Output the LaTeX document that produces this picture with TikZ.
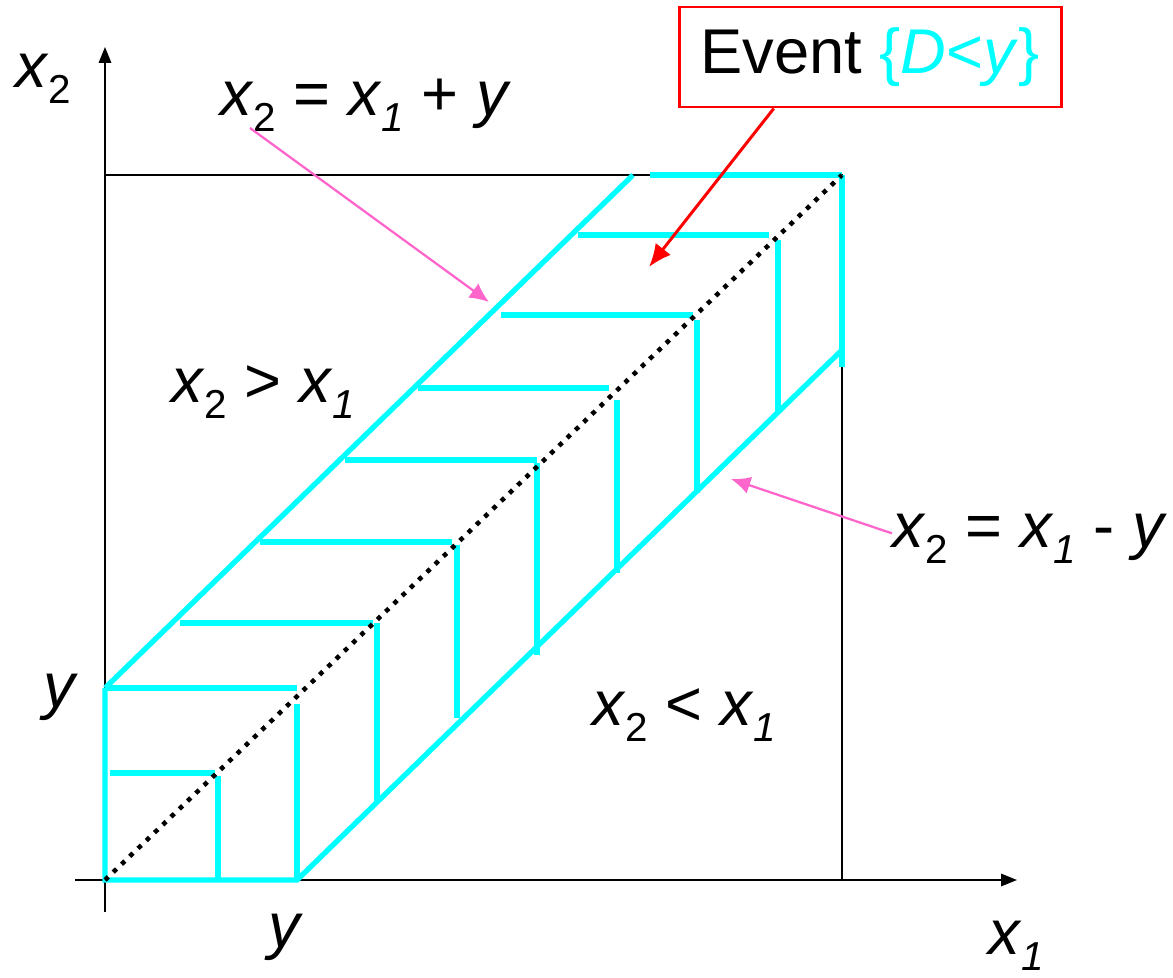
\documentclass[tikz,border=0pt]{standalone}
\usepackage{fontspec}
\setmainfont{Liberation Sans}
\usetikzlibrary{calc,arrows.meta}
\definecolor{aqua}{RGB}{0,255,255}
\definecolor{hotpink}{RGB}{255,102,204}
\newcommand{\sx}[1]{\textit{x}\raisebox{-9.5pt}{\fontsize{23}{23}\selectfont#1}}

\begin{document}
\begin{tikzpicture}[x=0.02cm,y=-0.02cm,
  axis/.style={black,line width=1.1pt},
  band/.style={aqua,line width=3pt},
  lbl/.style={font=\fontsize{36}{42}\selectfont,inner sep=0pt,anchor=base west},
  pointer/.style={hotpink,line width=1.3pt,-{Latex[length=11pt,width=10pt]}}]
  \useasboundingbox (0,0) rectangle (1173,977);
  \draw[axis,-{Triangle[length=9pt,width=7pt]}] (75,880)--(1017,880);
  \draw[axis,-{Triangle[length=9pt,width=7pt]}] (105,912)--(105,47);
  \draw[axis] (105,175)--(842,175)--(842,880);
  \node[lbl] (xtwo) at (15,87) {\sx{2}};
  \node[lbl] (xone) at (988,954) {\sx{\itshape 1}};
  \node[lbl] (yleft) at (43,707) {\textit{y}};
  \node[lbl] (ybottom) at (268,947) {\textit{y}};
  \draw[band] (105,688)--(105,880)--(297,880)--(842,350);
  \draw[band] (105,688)--(633,175);
  \draw[band] (110,773)--(215,773);
  \draw[band] (218,776)--(218,880);
  \draw[band] (105,688)--(297,688);
  \draw[band] (297,704)--(297,880);
  \draw[band] (180,623)--(373,623);
  \draw[band] (377,623)--(377,802);
  \draw[band] (260,542)--(452,542);
  \draw[band] (457,545)--(457,718);
  \draw[band] (345,460)--(537,460);
  \draw[band] (537,463)--(537,655);
  \draw[band] (418,388)--(609,388);
  \draw[band] (617,400)--(617,573);
  \draw[band] (501,315)--(693,315);
  \draw[band] (697,320)--(697,493);
  \draw[band] (578,235)--(769,235);
  \draw[band] (778,240)--(778,412);
  \draw[band] (650,175)--(842,175);
  \draw[band] (842,175)--(842,367);
  \draw[black,line width=2.6pt,dash pattern=on 2.6pt off 3.9pt] (105,880)--(842,175);
  \node[lbl] (plus) at (220,115) {\sx{2} = \sx{\itshape 1} + \textit{y}};
  \node[lbl] (minus) at (892,547) {\sx{2} = \sx{\itshape 1} - \textit{y}};
  \node[lbl] (above) at (171,402) {\sx{2} > \sx{\itshape 1}};
  \node[lbl] (below) at (592,725) {\sx{2} < \sx{\itshape 1}};
  \node[draw=red,line width=1.7pt,minimum width=382*0.02cm,minimum height=100*0.02cm,
    font=\fontsize{36}{42}\selectfont] (event) at (870,57)
    {Event \textcolor{aqua}{\{\textit{D}<\textit{y}\}}};
  \coordinate (plusfrom) at (250,128);
  \coordinate (plustip) at (489,302);
  \coordinate (minustip) at (731,479);
  \coordinate (eventtip) at (649,267);
  \draw[pointer] (plusfrom)--(plustip);
  \draw[pointer] ([yshift=3pt]minus.west)--(minustip);
  \draw[red,line width=1.7pt,-{Latex[length=13pt,width=11pt]}]
    ($(event.south west)!0.25!(event.south east)$)--(eventtip);
\end{tikzpicture}
\end{document}
